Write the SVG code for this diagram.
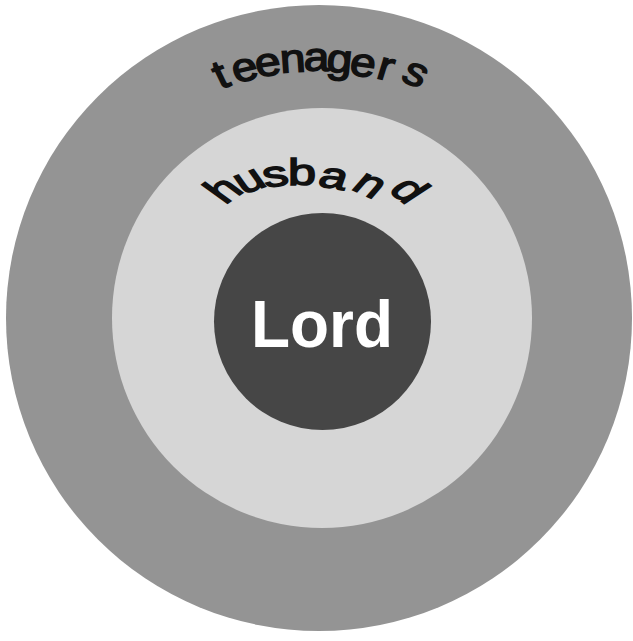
<svg xmlns="http://www.w3.org/2000/svg" width="633" height="641" viewBox="0 0 633 641">
<style>
.arc{font-family:"Liberation Sans",Arial,sans-serif;fill:#111111;stroke:#111111;stroke-width:1.5;}
.lord{font-family:"Liberation Sans",Arial,sans-serif;font-weight:bold;fill:#ffffff;}
</style>
<rect width="633" height="641" fill="#ffffff"/>
<g id="outer">
<circle cx="319" cy="318" r="313" fill="#949494"/>
<g transform="scale(1.15,1)">
<text class="arc" font-size="40" x="191.83 204.9 223.81 244.11 264.1 283.26 302.94 326.17 347.45" y="89.15 83.35 77.27 72.67 71.5 71.61 74.23 77.79 80.29" rotate="-22.71 -14.87 -9.18 -3.45 0 4.6 9.18 14.87 24.92">teenagers</text>
</g>
</g>
<g id="middle">
<circle cx="322" cy="318" r="210" fill="#d6d6d6"/>
<g transform="scale(1.4,1)">
<text class="arc" font-size="36" x="160.71 173.94 189.74 205.71 225.99 250.08 276.82" y="205.01 194.54 187.74 185 185.6 188.7 190.61" rotate="-44.43 -27 -11.13 0 13.86 31.94 47.57">husband</text>
</g>
</g>
<g id="inner">
<circle cx="322.5" cy="321.5" r="108.5" fill="#464646"/>
<text class="lord" x="322" y="347" font-size="67" text-anchor="middle" textLength="142" lengthAdjust="spacingAndGlyphs">Lord</text>
</g>
<g id="connectors"></g>
</svg>
